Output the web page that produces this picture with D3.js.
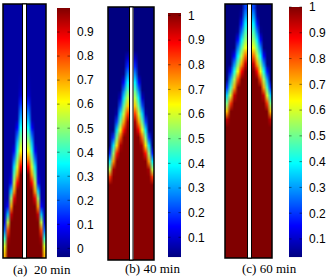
<!DOCTYPE html>
<html>
<head>
<meta charset="utf-8">
<script src="https://cdn.jsdelivr.net/npm/d3@7"></script>
<style>
  body { margin: 0; background: #fff; }
  svg { display: block; }
</style>
</head>
<body>
<script>
window.onload = main;

// concentration field, left half of each channel (right half is its mirror)
// rows: top -> bottom, columns: outer wall -> centre wall
const fieldA = [
    [0,0,0,0,0,0], [0,0,0,0,0,0], [0,0,0,0,0,0], [0,0,0,0,0,0],
    [0,0,0,0,0,0], [0,0,0,0,0,0], [0,0,0,0,0,0], [0,0,0,0,0,0],
    [0,0,0,0,0,0], [0,0,0,0,0,0.01],
    [0,0,0,0,0,0.02],
    [0,0,0,0,0,0.05],
    [0,0,0,0,0,0.13],
    [0,0,0,0,0,0.21],
    [0,0,0,0,0.01,0.28],
    [0,0,0,0,0.09,0.36],
    [0,0,0,0,0.19,0.44],
    [0,0,0,0.01,0.29,0.52],
    [0,0,0,0.08,0.38,0.6],
    [0,0,0,0.2,0.48,0.73],
    [0,0,0,0.32,0.57,0.87],
    [0,0,0.03,0.44,0.71,1],
    [0,0,0.1,0.55,0.87,1],
    [0,0,0.3,0.71,1,1],
    [0,0.01,0.5,0.89,1,1],
    [0,0.1,0.7,1,1,1],
    [0,0.3,0.92,1,1,1],
    [0.05,0.55,1,1,1,1],
    [0.2,0.8,1,1,1,1],
    [0.4,0.95,1,1,1,1],
    [0.58,1,1,1,1,1],
    [0.68,1,1,1,1,1]
];
const fieldB = [
    [0,0,0,0,0,0], [0,0,0,0,0,0], [0,0,0,0,0,0], [0,0,0,0,0,0],
    [0,0,0,0,0,0.01],
    [0,0,0,0,0,0.02],
    [0,0,0,0,0,0.09],
    [0,0,0,0,0,0.18],
    [0,0,0,0,0.03,0.28],
    [0,0,0,0,0.15,0.38],
    [0,0,0,0.01,0.26,0.47],
    [0,0,0,0.09,0.37,0.57],
    [0,0,0,0.22,0.48,0.69],
    [0,0,0.06,0.36,0.59,0.83],
    [0,0,0.21,0.49,0.73,0.97],
    [0,0.01,0.36,0.62,0.88,1],
    [0,0.19,0.51,0.79,1,1],
    [0.01,0.36,0.67,0.96,1,1],
    [0.17,0.53,0.87,1,1,1],
    [0.37,0.74,1,1,1,1],
    [0.57,0.97,1,1,1,1],
    [0.84,1,1,1,1,1],
    [1,1,1,1,1,1], [1,1,1,1,1,1], [1,1,1,1,1,1], [1,1,1,1,1,1],
    [1,1,1,1,1,1], [1,1,1,1,1,1], [1,1,1,1,1,1], [1,1,1,1,1,1],
    [1,1,1,1,1,1], [1,1,1,1,1,1]
];
const fieldC = [
    [0,0,0,0,0.03,0.22],
    [0,0,0,0,0.07,0.3],
    [0,0,0,0.01,0.17,0.38],
    [0,0,0,0.05,0.27,0.46],
    [0,0,0,0.16,0.38,0.54],
    [0,0,0.02,0.28,0.48,0.63],
    [0,0,0.15,0.39,0.58,0.78],
    [0,0.03,0.28,0.51,0.72,0.93],
    [0,0.17,0.41,0.63,0.88,1],
    [0.04,0.31,0.55,0.81,1,1],
    [0.19,0.45,0.72,0.99,1,1],
    [0.35,0.6,0.93,1,1,1],
    [0.51,0.83,1,1,1,1],
    [0.7,1,1,1,1,1],
    [0.94,1,1,1,1,1],
    [1,1,1,1,1,1], [1,1,1,1,1,1], [1,1,1,1,1,1], [1,1,1,1,1,1],
    [1,1,1,1,1,1], [1,1,1,1,1,1], [1,1,1,1,1,1], [1,1,1,1,1,1],
    [1,1,1,1,1,1], [1,1,1,1,1,1], [1,1,1,1,1,1], [1,1,1,1,1,1],
    [1,1,1,1,1,1], [1,1,1,1,1,1], [1,1,1,1,1,1], [1,1,1,1,1,1],
    [1,1,1,1,1,1]
];

const panelLabels = ["(a)  20 min", "(b) 40 min", "(c) 60 min"];
const cbarMin = [-0.036, 0.02, 0.03];
const cbarMax = [1.0, 1.01, 1.0];
const cbarTicks = [
    [0, 0.1, 0.2, 0.3, 0.4, 0.5, 0.6, 0.7, 0.8, 0.9],
    [0.1, 0.2, 0.3, 0.4, 0.5, 0.6, 0.7, 0.8, 0.9, 1],
    [0.1, 0.2, 0.3, 0.4, 0.5, 0.6, 0.7, 0.8, 0.9, 1]
];

// jet colormap stops
const jetStops = [0, 0.125, 0.375, 0.625, 0.875, 1];
const jetColors = ["#000080", "#0000ff", "#00ffff", "#ffff00", "#ff0000", "#800000"];

function jet(min, max) {
    return d3.scaleLinear()
        .domain(jetStops.map(t => min + t * (max - min)))
        .range(jetColors)
        .clamp(true);
}

function main() {
    const fields = [fieldA, fieldB, fieldC];

    // layout of each panel (pixels)
    const layout = [
        { left: 3,   right: 46,  top: 4, bottom: 258, strip: [22, 27],    bar: [57, 70, 8, 257],   label: [13, 274] },
        { left: 108, right: 154, top: 7, bottom: 260, strip: [129, 133.5], bar: [168, 181, 13, 257], label: [125, 273] },
        { left: 225, right: 272, top: 4, bottom: 258, strip: [247, 252],  bar: [289, 302, 7, 257], label: [242, 273] }
    ];

    const svg = d3.select("body").append("svg")
        .attr("width", 327)
        .attr("height", 279);

    svg.append("rect").attr("width", 327).attr("height", 279).attr("fill", "#fff");

    fields.forEach((field, p) => {
        const L = layout[p];
        const color = jet(cbarMin[p], cbarMax[p]);
        const g = svg.append("g");

        // the two halves of the channel
        drawHalf(g, field, color, L.left, L.strip[0], L.top, L.bottom, false);
        drawHalf(g, field, color, L.strip[1], L.right, L.top, L.bottom, true);

        g.append("rect")
            .attr("x", L.left)
            .attr("y", L.top)
            .attr("width", L.right - L.left)
            .attr("height", L.bottom - L.top)
            .attr("fill", "none")
            .attr("stroke", "#000")
            .attr("stroke-width", 1.5);

        // centre wall
        g.append("rect")
            .attr("x", L.strip[0] + 0.5)
            .attr("y", L.top)
            .attr("width", L.strip[1] - L.strip[0] - 1)
            .attr("height", L.bottom - L.top)
            .attr("fill", "#fff")
            .attr("stroke", "#000")
            .attr("stroke-width", 1);

        // colorbar
        const [bx0, bx1, by0, by1] = L.bar;
        const y = d3.scaleLinear()
            .domain([cbarMin[p], cbarMax[p]])
            .range([by1, by0]);

        g.selectAll("rect.cb")
            .data(d3.range(by0, by1))
            .join("rect")
            .attr("class", "cb")
            .attr("x", bx0)
            .attr("y", d => d)
            .attr("width", bx1 - bx0)
            .attr("height", 1.05)
            .attr("fill", d => color(y.invert(d + 0.5)));

        const ticks = g.selectAll("g.tick")
            .data(cbarTicks[p])
            .join("g")
            .attr("class", "tick")
            .attr("transform", d => `translate(0,${y(d)})`);

        ticks.append("line")
            .attr("x1", bx0).attr("x2", bx0 + 2.5)
            .attr("stroke", "#000").attr("stroke-opacity", 0.45);
        ticks.append("line")
            .attr("x1", bx1 - 2.5).attr("x2", bx1)
            .attr("stroke", "#000").attr("stroke-opacity", 0.45);
        ticks.append("text")
            .attr("x", bx1 + 7)
            .attr("dy", "0.36em")
            .style("font-family", "'Liberation Sans', Arial, sans-serif")
            .style("font-size", "12px")
            .attr("fill", "#000")
            .text(d => d3.format("~g")(d));

        // caption
        svg.append("text")
            .attr("x", L.label[0])
            .attr("y", L.label[1])
            .style("font-family", "'Liberation Serif', 'Times New Roman', serif")
            .style("font-size", "13px")
            .style("white-space", "pre")
            .attr("fill", "#000")
            .text(panelLabels[p]);
    });
}

// paint the grid into a tiny canvas and let the browser smooth it when scaled
function drawHalf(g, field, color, x0, x1, y0, y1, mirror) {
    const rows = field.length;
    const cols = field[0].length;
    const cx = d3.scaleBand().domain(d3.range(cols)).range(mirror ? [cols, 0] : [0, cols]);
    const cy = d3.scaleBand().domain(d3.range(rows)).range([0, rows]);

    const canvas = document.createElement("canvas");
    canvas.width = cols;
    canvas.height = rows;
    const ctx = canvas.getContext("2d");
    field.forEach((row, j) => {
        row.forEach((v, i) => {
            ctx.fillStyle = color(v);
            ctx.fillRect(cx(i), cy(j), 1, 1);
        });
    });

    g.append("image")
        .attr("href", canvas.toDataURL())
        .attr("x", x0)
        .attr("y", y0)
        .attr("width", x1 - x0)
        .attr("height", y1 - y0)
        .attr("preserveAspectRatio", "none")
        .style("image-rendering", "auto");
}
</script>
</body>
</html>
